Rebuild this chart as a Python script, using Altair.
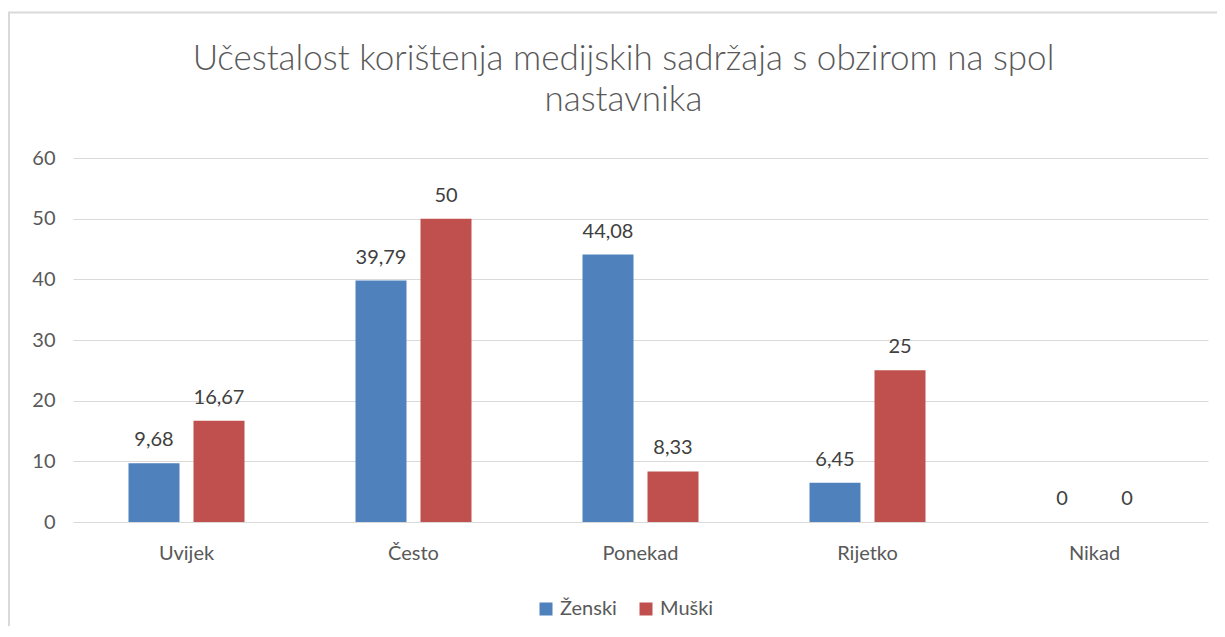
import altair as alt
import pandas as pd

categories = ["Uvijek", "Često", "Ponekad", "Rijetko", "Nikad"]
series = ["Ženski", "Muški"]
zenski = [9.68, 39.79, 44.08, 6.45, 0]
muski = [16.67, 50, 8.33, 25, 0]
colors = ["#4F81BD", "#C0504D"]
y_ticks = [0, 10, 20, 30, 40, 50, 60]
title_lines = ["Učestalost korištenja medijskih sadržaja s obzirom na spol", "nastavnika"]

FONT = "Lato"
FS = 20

rows = []
for c, z, m in zip(categories, zenski, muski):
    rows.append({"kategorija": c, "spol": series[0], "vrijednost": z})
    rows.append({"kategorija": c, "spol": series[1], "vrijednost": m})
df = pd.DataFrame(rows)
df["oznaka"] = df["vrijednost"].map(lambda v: f"{v:g}".replace(".", ","))

base = alt.Chart(df).encode(
    x=alt.X(
        "kategorija:N",
        sort=categories,
        scale=alt.Scale(paddingInner=0, paddingOuter=0),
        axis=alt.Axis(
            title=None, labelAngle=0, ticks=False, domain=False,
            labelFontSize=FS, labelColor="#595959", labelFont=FONT, labelPadding=21,
        ),
    ),
    xOffset=alt.XOffset(
        "spol:N", sort=series,
        scale=alt.Scale(paddingInner=0.2154, paddingOuter=0.8538),
    ),
    y=alt.Y(
        "vrijednost:Q",
        scale=alt.Scale(domain=[0, 60], nice=False),
        axis=alt.Axis(
            title=None, values=y_ticks, domain=False, ticks=False,
            grid=True, gridColor="#D9D9D9", gridWidth=1,
            labelFontSize=FS, labelColor="#595959", labelFont=FONT, labelPadding=18,
        ),
    ),
)

bars = base.mark_bar().encode(
    color=alt.Color(
        "spol:N", sort=series,
        scale=alt.Scale(domain=series, range=colors),
        legend=alt.Legend(
            title=None, orient="none", direction="horizontal",
            legendX=463, legendY=441, padding=0,
            symbolType="square", symbolSize=169, symbolStrokeWidth=0,
            labelFontSize=FS, labelColor="#595959", labelFont=FONT,
            labelOffset=4, columnPadding=19,
        ),
    )
)

labels = base.mark_text(
    baseline="alphabetic", dy=-17, fontSize=FS, color="#404040", font=FONT
).encode(text="oznaka:N")

border = alt.Chart(alt.Data(values=[{}])).mark_rect(
    fill=None, stroke="#D9D9D9", strokeWidth=2
).encode(
    x=alt.value(-64), x2=alt.value(1400),
    y=alt.value(-145.5), y2=alt.value(800),
)

chart = alt.layer(border, bars, labels).properties(
    width=1135,
    height=364,
    autosize=alt.AutoSizeParams(type="none"),
    padding={"left": 65, "top": 150, "right": 9, "bottom": 104},
    title=alt.Title(
        title_lines, fontSize=35, font=FONT, fontWeight=300, color="#595959",
        lineHeight=41, anchor="middle", offset=-106, dx=-17,
    ),
).configure_view(stroke=None)

chart.save("out.html", embed_options={"renderer": "svg", "actions": False})
